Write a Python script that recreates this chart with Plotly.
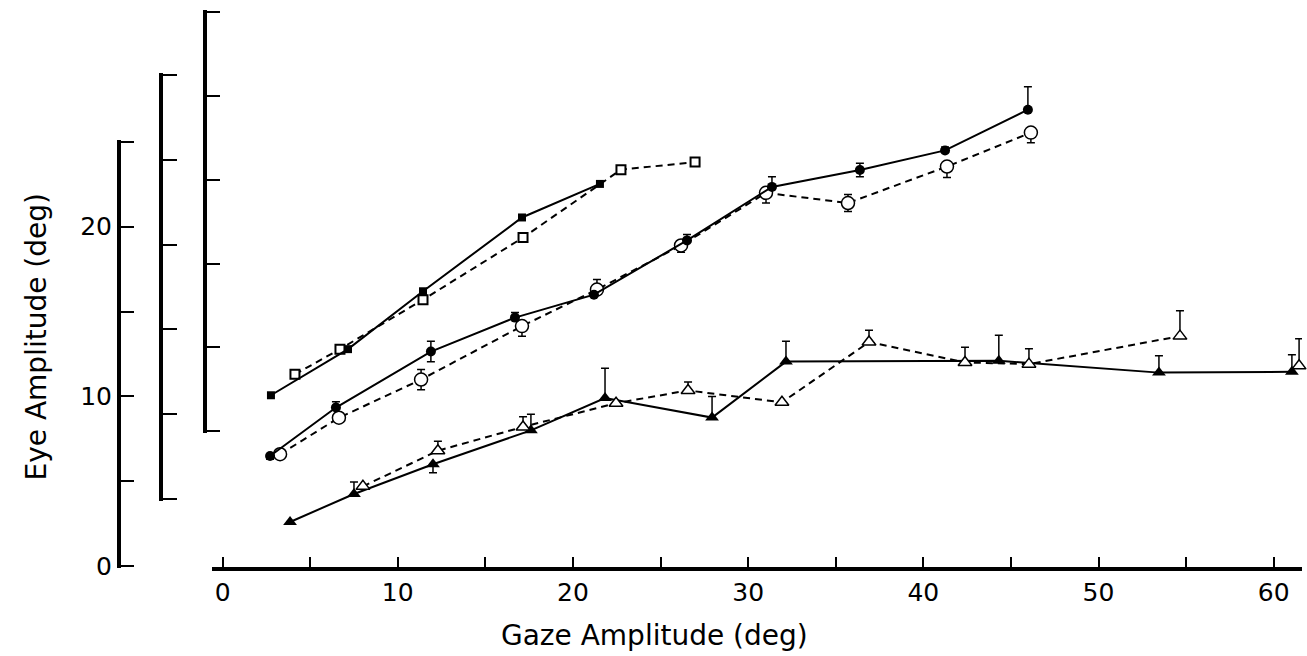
import plotly.graph_objects as go

# ---------------- data ----------------
# Triangles (bottom family, left-most y axis)
gaze_tri_filled = [3.85, 7.50, 12.01, 17.60, 21.83, 27.94, 32.16, 44.31, 53.45, 61.04]
eye_tri_filled = [2.6, 4.25, 6.0, 8.0, 9.9, 8.75, 12.05, 12.1, 11.4, 11.45]
err_tri_filled_up = [0, 0.7, 0, 0.95, 1.75, 1.25, 1.2, 1.5, 1.0, 1.0]
err_tri_filled_dn = [0, 0, 0.5, 0, 0, 0, 0, 0, 0, 0]

gaze_tri_open = [8.01, 12.29, 17.15, 22.46, 26.57, 31.93, 36.90, 42.38, 46.03, 54.65, 61.45]
eye_tri_open = [4.7, 6.8, 8.2, 9.6, 10.35, 9.65, 13.2, 12.0, 11.9, 13.55, 11.8]
err_tri_open_up = [0, 0.55, 0.6, 0, 0.5, 0, 0.7, 0.9, 0.9, 1.5, 1.6]
n_tri_open_connected = 10  # last open triangle is not joined by the dashed line

# Circles (middle family, second y axis)
gaze_circ_filled = [2.71, 6.47, 11.89, 16.69, 21.20, 26.51, 31.36, 36.38, 41.24, 45.97]
eye_circ_filled = [2.55, 5.4, 8.7, 10.7, 12.05, 15.25, 18.4, 19.4, 20.55, 22.95]
err_circ_filled_up = [0, 0.35, 0.6, 0.3, 0, 0.35, 0.6, 0.4, 0.2, 1.35]
err_circ_filled_dn = [0.2, 0, 0.6, 0, 0, 0, 0, 0.4, 0, 0]

gaze_circ_open = [3.28, 6.64, 11.33, 17.09, 21.37, 26.17, 31.02, 35.70, 41.35, 46.14]
eye_circ_open = [2.65, 4.8, 7.05, 10.2, 12.35, 14.95, 18.05, 17.45, 19.6, 21.6]
err_circ_open_up = [0, 0, 0.6, 0, 0.6, 0, 0, 0.5, 0, 0]
err_circ_open_dn = [0, 0, 0.6, 0.6, 0, 0.4, 0.6, 0.5, 0.65, 0.6]

# Squares (top family, third y axis)
gaze_sq_filled = [2.76, 7.16, 11.44, 17.09, 21.54]
eye_sq_filled = [2.15, 4.9, 8.35, 12.75, 14.75]
gaze_sq_open = [4.13, 6.70, 11.44, 17.15, 22.74, 26.97]
eye_sq_open = [3.4, 4.9, 7.85, 11.55, 15.6, 16.05]

# axes ticks
x_tickvals = [0, 5, 10, 15, 20, 25, 30, 35, 40, 45, 50, 55, 60]
x_ticktext = ["0", "", "10", "", "20", "", "30", "", "40", "", "50", "", "60"]
y_tickvals = [0, 5, 10, 15, 20, 25]
y_ticktext = ["0", "", "10", "", "20", ""]

# ---------------- layout geometry (pixels) ----------------
W, H = 1307, 656
HE = 644  # effective rendered paper height observed in the viewer
FONT = "DejaVu Sans, Verdana, sans-serif"


def px_x(p):
    return p / W


def px_y(p):
    return (HE - p) / HE


# x axis: value 0 at 222.6 px, 17.518 px per degree
x0_px, x_scale = 222.6, 17.518
xd = [212, 1302]
x_range = [(xd[0] - x0_px) / x_scale, (xd[1] - x0_px) / x_scale]


def y_axis_geom(bottom_px, top_px, pad=2):
    # axis spanning 0..25 between bottom_px and top_px, extended by pad px
    s = (bottom_px - top_px) / 25.0
    dom = [px_y(bottom_px + pad), px_y(top_px - pad)]
    rng = [-pad / s, 25 + pad / s]
    return dom, rng


y1_dom, y1_rng = y_axis_geom(567, 142)
y2_dom, y2_rng = y_axis_geom(500, 75)
y3_dom, y3_rng = y_axis_geom(432, 12)

fig = go.Figure()

SOLID = dict(color="black", width=2)
DASH = dict(color="black", width=2, dash="7px,5px")


def err(up, dn=None):
    return dict(type="data", symmetric=False, array=up,
                arrayminus=dn if dn is not None else [0] * len(up),
                color="black", thickness=1.5, width=4)


# triangles (y)
fig.add_trace(go.Scatter(
    x=gaze_tri_filled, y=eye_tri_filled, mode="lines+markers", line=SOLID,
    marker=dict(symbol="triangle-up", size=12, color="black"),
    error_y=err(err_tri_filled_up, err_tri_filled_dn),
    xaxis="x", yaxis="y", cliponaxis=False))
fig.add_trace(go.Scatter(
    x=gaze_tri_open[:n_tri_open_connected], y=eye_tri_open[:n_tri_open_connected],
    mode="lines", line=DASH, xaxis="x", yaxis="y"))
fig.add_trace(go.Scatter(
    x=gaze_tri_open, y=eye_tri_open, mode="markers",
    marker=dict(symbol="triangle-up", size=12, color="white",
                line=dict(color="black", width=1.5)),
    error_y=err(err_tri_open_up),
    xaxis="x", yaxis="y", cliponaxis=False))

# circles (y2)
fig.add_trace(go.Scatter(
    x=gaze_circ_open, y=eye_circ_open, mode="lines+markers", line=DASH,
    marker=dict(symbol="circle", size=13, color="white",
                line=dict(color="black", width=1.5)),
    error_y=err(err_circ_open_up, err_circ_open_dn),
    xaxis="x", yaxis="y2", cliponaxis=False))
fig.add_trace(go.Scatter(
    x=gaze_circ_filled, y=eye_circ_filled, mode="lines+markers", line=SOLID,
    marker=dict(symbol="circle", size=10, color="black"),
    error_y=err(err_circ_filled_up, err_circ_filled_dn),
    xaxis="x", yaxis="y2", cliponaxis=False))

# squares (y3)
fig.add_trace(go.Scatter(
    x=gaze_sq_open, y=eye_sq_open, mode="lines+markers", line=DASH,
    marker=dict(symbol="square", size=9, color="white",
                line=dict(color="black", width=2)),
    xaxis="x", yaxis="y3", cliponaxis=False))
fig.add_trace(go.Scatter(
    x=gaze_sq_filled, y=eye_sq_filled, mode="lines+markers", line=SOLID,
    marker=dict(symbol="square", size=8, color="black"),
    xaxis="x", yaxis="y3", cliponaxis=False))

tickfont = dict(family=FONT, size=25, color="black")
common_y = dict(anchor="free", side="left", showline=True, linewidth=4,
                linecolor="black", ticks="inside", tickwidth=2,
                tickcolor="black", tickvals=y_tickvals,
                showgrid=False, zeroline=False)

fig.update_layout(
    width=W, height=H,
    margin=dict(l=0, r=0, t=0, b=0, pad=0),
    paper_bgcolor="white", plot_bgcolor="rgba(0,0,0,0)",
    showlegend=False,
    font=dict(family=FONT, color="black"),
    xaxis=dict(domain=[px_x(xd[0]), px_x(xd[1])], range=x_range,
               anchor="free", position=px_y(570),
               showline=True, linewidth=4, linecolor="black",
               ticks="inside", ticklen=10, tickwidth=2, tickcolor="black",
               tickvals=x_tickvals, ticktext=x_ticktext, tickfont=tickfont,
               showgrid=False, zeroline=False),
    yaxis=dict(domain=y1_dom, range=y1_rng, position=px_x(119), ticklen=13,
               ticktext=y_ticktext, tickfont=tickfont, **common_y),
    yaxis2=dict(domain=y2_dom, range=y2_rng, position=px_x(161), ticklen=14,
                showticklabels=False, **common_y),
    yaxis3=dict(domain=y3_dom, range=y3_rng, position=px_x(205), ticklen=13,
                showticklabels=False, **common_y),
    annotations=[
        dict(text="Eye Amplitude (deg)", textangle=-90, showarrow=False,
             xref="paper", yref="paper", x=px_x(36), y=px_y(338),
             xanchor="center", yanchor="middle",
             font=dict(family=FONT, size=28, color="black")),
        dict(text="Gaze Amplitude (deg)", showarrow=False,
             xref="paper", yref="paper", x=px_x(654), y=px_y(636),
             xanchor="center", yanchor="middle",
             font=dict(family=FONT, size=28, color="black")),
    ],
)

fig.write_html("out.html")
